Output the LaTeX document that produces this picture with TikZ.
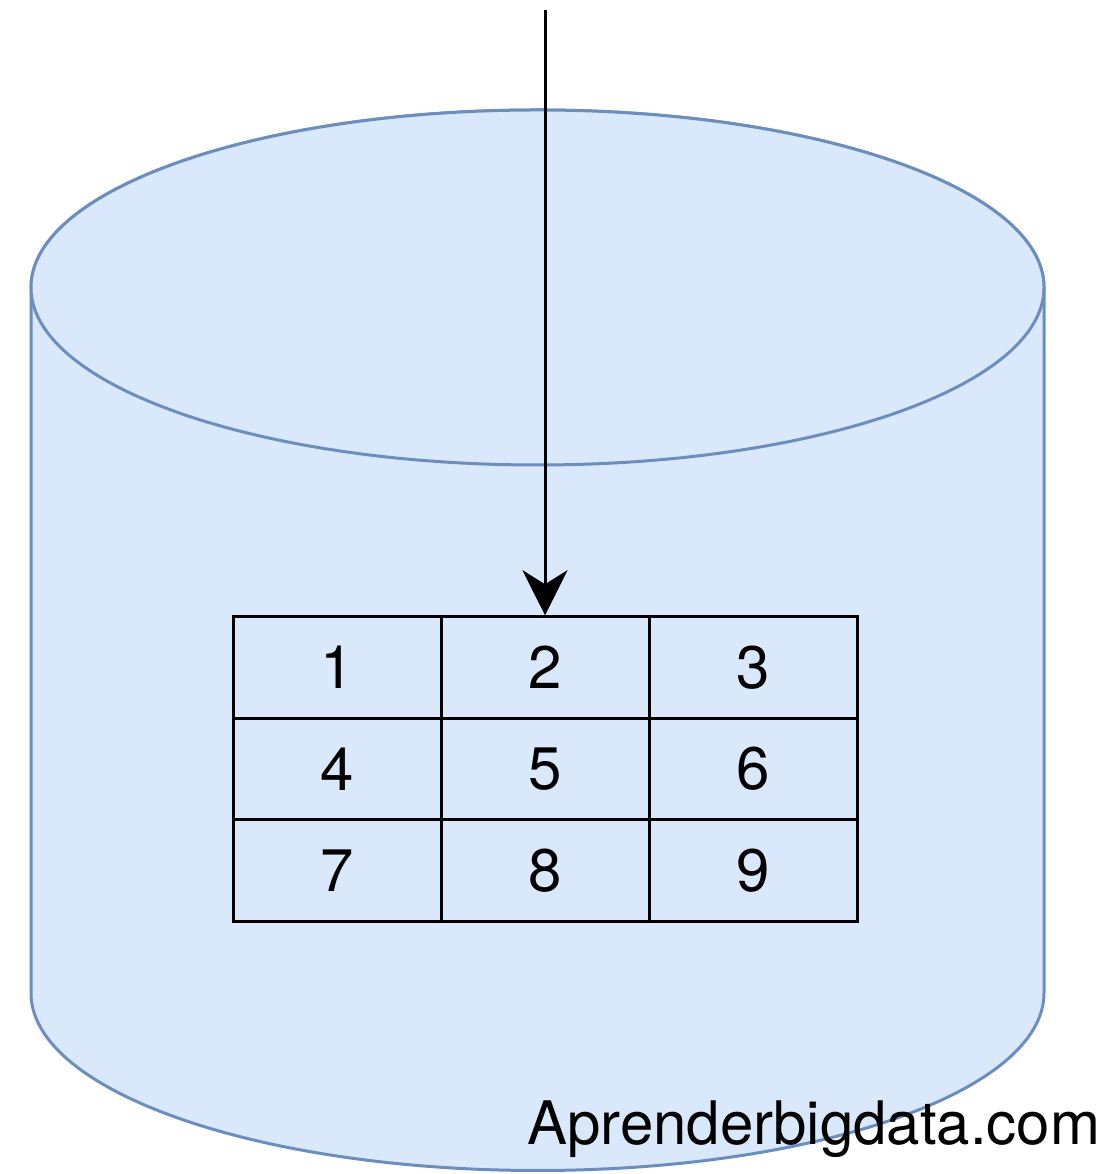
\documentclass[tikz,border=0pt]{standalone}
\usepackage{fontspec}
\setmainfont{TeX Gyre Heros}
\usetikzlibrary{arrows.meta}
\definecolor{cylfill}{HTML}{DAE8FC}
\definecolor{cylline}{HTML}{6C8EBF}
\tikzset{
  cell/.style={draw=black, line width=3pt, minimum width=208pt, minimum height=101.5pt, inner sep=0pt, font=\fontsize{60}{60}\selectfont},
  cyl/.style={fill=cylfill, draw=cylline, line width=3pt},
}
\begin{document}
\begin{tikzpicture}[x=1pt,y=1pt]
\useasboundingbox (0,0) rectangle (1119,1174);
% cylinder body
\path[cyl] (31,886.5) -- (31,181) arc[start angle=180, end angle=360, x radius=506.5, y radius=177.5] -- (1044,886.5) arc[start angle=0, end angle=180, x radius=506.5, y radius=177.5] -- cycle;
\draw[cyl] (537.5,886.5) ellipse[x radius=506.5, y radius=177.5];
% table
\node[cell] (c1) at (337,506.5) {1};
\node[cell] (c2) at (545,506.5) {2};
\node[cell] (c3) at (753,506.5) {3};
\node[cell] (c4) at (337,405) {4};
\node[cell] (c5) at (545,405) {5};
\node[cell] (c6) at (753,405) {6};
\node[cell] (c7) at (337,303.5) {7};
\node[cell] (c8) at (545,303.5) {8};
\node[cell] (c9) at (753,303.5) {9};
% arrow
\coordinate (src) at (545,1164);
\draw[line width=3pt, -{Stealth[length=45pt, width=45pt, inset=14pt]}] (src) -- (c2.north);
% label
\node[anchor=base west, inner sep=0pt, font=\fontsize{60}{60}\selectfont] (lbl) at (527,29) {Aprenderbigdata.com};
\end{tikzpicture}
\end{document}
